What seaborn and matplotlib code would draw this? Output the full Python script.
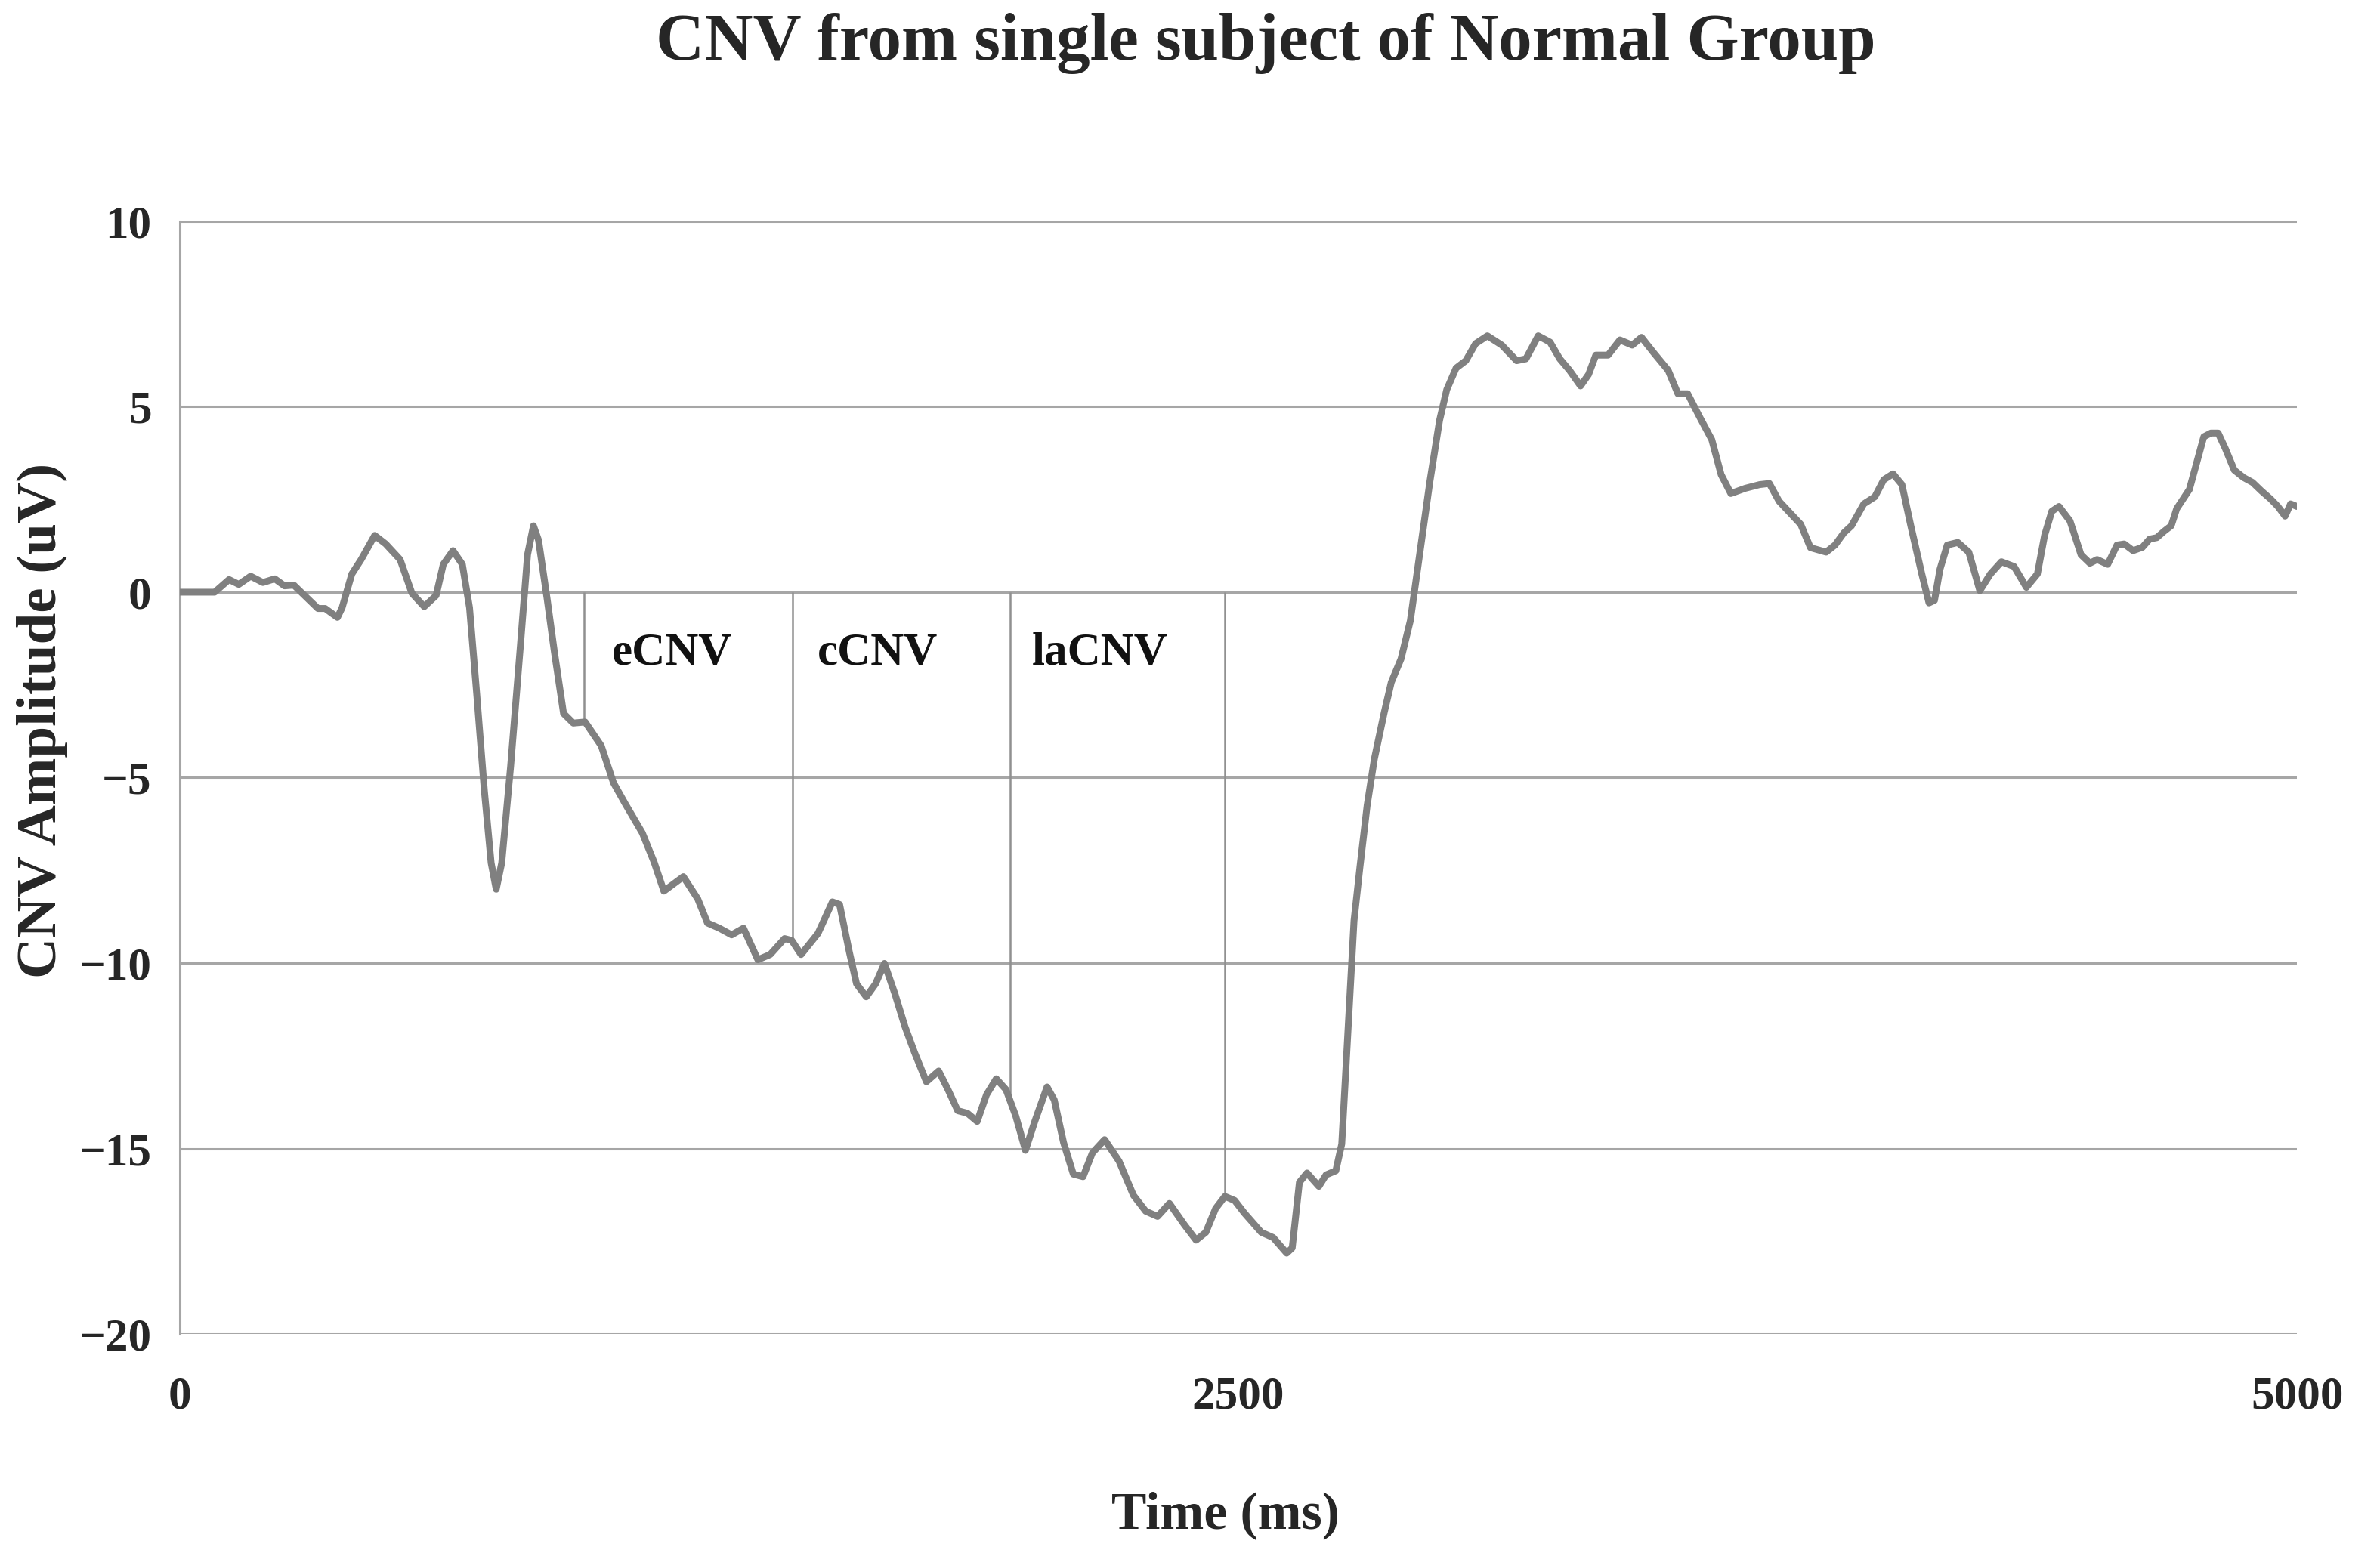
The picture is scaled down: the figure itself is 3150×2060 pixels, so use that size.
import numpy as np
import pandas as pd
import matplotlib
matplotlib.use("Agg")
import matplotlib.pyplot as plt
import seaborn as sns

# CNV trace (time in ms, amplitude in uV)
time_ms = [
    0, 82, 116, 139, 167, 196, 224, 247, 269, 298, 326, 343, 372, 383, 406, 428,
    460, 486, 520, 548, 577, 605, 622, 645, 667, 684, 701, 719, 735, 747, 760, 781,
    804, 821, 835, 847, 867, 884, 906, 929, 957, 995, 1024, 1052, 1092, 1120, 1143,
    1189, 1223, 1246, 1274, 1303, 1331, 1365, 1394, 1428, 1445, 1467, 1507, 1541,
    1558, 1581, 1598, 1621, 1643, 1664, 1689, 1712, 1735, 1763, 1792, 1814, 1837,
    1860, 1883, 1905, 1928, 1951, 1974, 1997, 2019, 2048, 2065, 2087, 2110, 2133,
    2155, 2184, 2218, 2252, 2281, 2309, 2337, 2372, 2400, 2423, 2446, 2468, 2491,
    2514, 2554, 2582, 2614, 2627, 2644, 2662, 2690, 2707, 2730, 2744, 2758, 2773,
    2787, 2804, 2821, 2844, 2861, 2884, 2906, 2929, 2952, 2975, 2992, 3014, 3037,
    3060, 3088, 3122, 3157, 3179, 3208, 3236, 3259, 3282, 3308, 3327, 3344, 3373,
    3401, 3430, 3452, 3481, 3515, 3538, 3561, 3589, 3618, 3640, 3663, 3697, 3731,
    3754, 3777, 3828, 3851, 3888, 3909, 3930, 3948, 3977, 4003, 4024, 4046, 4067,
    4088, 4114, 4131, 4144, 4157, 4174, 4199, 4225, 4251, 4276, 4302, 4332, 4361,
    4387, 4404, 4421, 4438, 4464, 4490, 4511, 4528, 4553, 4575, 4592, 4613, 4635,
    4652, 4669, 4686, 4703, 4716, 4746, 4763, 4780, 4797, 4814, 4831, 4852, 4874,
    4895, 4916, 4938, 4955, 4972, 4985, 5000,
]
amplitude = [
    0.00, 0.00, 0.34, 0.21, 0.43, 0.26, 0.36, 0.17, 0.19, -0.13, -0.44, -0.44, -0.68, -0.42, 0.49, 0.88,
    1.53, 1.30, 0.88, -0.03, -0.39, -0.09, 0.75, 1.12, 0.75, -0.42, -2.75, -5.35, -7.30, -8.01, -7.30, -4.70,
    -1.46, 1.01, 1.79, 1.40, -0.16, -1.58, -3.27, -3.53, -3.50, -4.14, -5.14, -5.71, -6.49, -7.28, -8.06,
    -7.67, -8.27, -8.92, -9.06, -9.24, -9.06, -9.91, -9.77, -9.34, -9.39, -9.77, -9.20, -8.35,
    -8.42, -9.70, -10.56, -10.91, -10.56, -10.01, -10.84, -11.70, -12.41, -13.20, -12.91, -13.41, -13.98,
    -14.05, -14.27, -13.55, -13.12, -13.41, -14.12, -15.05, -14.27, -13.34, -13.69, -14.84, -15.69, -15.76,
    -15.12, -14.76, -15.34, -16.26, -16.69, -16.83, -16.48, -17.05, -17.47, -17.26, -16.62, -16.29, -16.40,
    -16.74, -17.26, -17.40, -17.82, -17.68, -15.91, -15.66, -16.02, -15.71, -15.60, -14.88, -11.97, -8.86,
    -7.41, -5.75, -4.50, -3.26, -2.43, -1.80, -0.77, 1.10, 2.97, 4.63, 5.46, 6.04, 6.24,
    6.70, 6.91, 6.66, 6.24, 6.29, 6.91, 6.74, 6.29, 5.98, 5.56, 5.87, 6.39, 6.39,
    6.80, 6.66, 6.87, 6.45, 5.98, 5.35, 5.35, 4.73, 4.11, 3.17, 2.66, 2.80, 2.90,
    2.93, 2.45, 1.83, 1.20, 1.08, 1.27, 1.60, 1.79, 2.38, 2.57, 3.03, 3.19, 2.90,
    1.79, 0.49, -0.29, -0.22, 0.62, 1.27, 1.34, 1.08, 0.04, 0.49, 0.82, 0.69, 0.13,
    0.49, 1.53, 2.18, 2.31, 1.92, 1.01, 0.78, 0.88, 0.75, 1.27, 1.30, 1.12, 1.21,
    1.43, 1.47, 1.64, 1.79, 2.25, 2.77, 3.48, 4.19, 4.29, 4.29, 3.87, 3.29, 3.09,
    2.96, 2.73, 2.51, 2.31, 2.05, 2.38, 2.31,
]

# window boundaries and their labels
window_edges = [955, 1447, 1961, 2468]
window_names = ["eCNV", "cCNV", "laCNV"]
label_x = [1163, 1648, 2172]
label_y = -1.66

y_ticks = [-20, -15, -10, -5, 0, 5, 10]
x_ticks = [0, 2500, 5000]

df = pd.DataFrame({"Time": time_ms, "Amplitude": amplitude})

sns.set_style("white")
plt.rcParams["font.family"] = ["Liberation Serif", "DejaVu Serif"]
plt.rcParams["font.weight"] = "bold"

fig = plt.figure(figsize=(31.5, 20.6), dpi=100)
ax = fig.add_axes([0.0756, 0.1427, 0.8895, 0.7151])

grid_col = "#a6a6a6"
for yv in y_ticks:
    ax.axhline(yv, color=grid_col, lw=2.2, zorder=1)

# vertical window lines from zero down to the curve
edge_vals = np.interp(window_edges, df["Time"], df["Amplitude"])
ax.vlines(window_edges, edge_vals, 0, color="#909090", lw=1.8, zorder=2)

sns.lineplot(data=df, x="Time", y="Amplitude", ax=ax, color="#808080",
             lw=6.5, solid_joinstyle="round", solid_capstyle="round", zorder=3)

for name, lx in zip(window_names, label_x):
    ax.text(lx, label_y, name, ha="center", va="center", fontsize=44,
            fontweight="bold", color="#111111")

ax.set_xlim(0, 5000)
ax.set_ylim(-20, 10)
ax.set_yticks(y_ticks)
ax.set_xticks(x_ticks)
ax.set_xticklabels([str(v) for v in x_ticks])
for s in ["top", "right", "bottom"]:
    ax.spines[s].set_visible(False)
ax.spines["left"].set_color(grid_col)
ax.spines["left"].set_linewidth(2.2)

ax.tick_params(axis="y", direction="out", length=13, width=2.2, color=grid_col,
               pad=14, labelsize=44)
ax.tick_params(axis="x", length=0, pad=40, labelsize=44)
for lab in ax.get_xticklabels() + ax.get_yticklabels():
    lab.set_fontweight("bold")

ax.set_xlabel("Time (ms)", fontsize=50, fontweight="bold")
ax.xaxis.set_label_coords(0.494, -0.141)
ax.set_ylabel("CNV Amplitude (uV)", fontsize=54, fontweight="bold")
ax.yaxis.set_label_coords(-0.053, 0.551)

fig.text(0.532, 0.972, "CNV from single subject of Normal Group", ha="center",
         va="center", fontsize=64, fontweight="bold")

fig.savefig("out.png", dpi=100, facecolor="white")
plt.close(fig)
